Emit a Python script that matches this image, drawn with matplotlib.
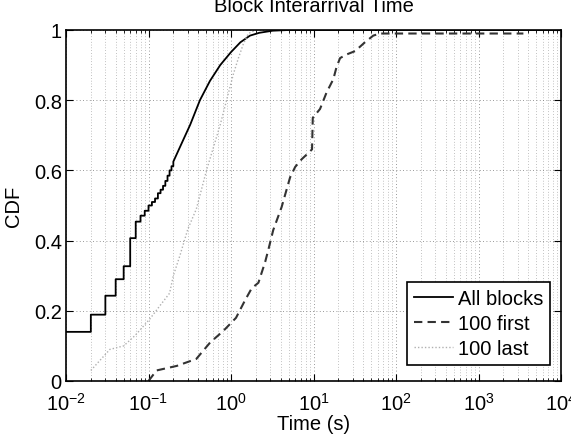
import numpy as np
import matplotlib
matplotlib.use("Agg")
import matplotlib.pyplot as plt
from matplotlib.ticker import LogLocator, NullFormatter, FixedLocator

plt.rcParams["font.family"] = ["Liberation Sans", "DejaVu Sans"]
plt.rcParams["mathtext.default"] = "regular"

# All blocks: discrete steps (0.01 s resolution) then a smooth part
all_step_t = [0.01, 0.02, 0.03, 0.04, 0.05, 0.06, 0.07, 0.08, 0.09, 0.10,
              0.11, 0.12, 0.13, 0.14, 0.15, 0.16, 0.17, 0.18, 0.19, 0.20]
all_step_cdf = [0.14, 0.189, 0.243, 0.29, 0.327, 0.407, 0.454, 0.471, 0.485, 0.50,
                0.51, 0.52, 0.535, 0.545, 0.556, 0.57, 0.585, 0.60, 0.612, 0.625]
all_smooth_t = [0.25, 0.32, 0.42, 0.556, 0.74, 1.0, 1.3, 1.7, 2.2, 3.2, 5.0, 1e4]
all_smooth_cdf = [0.675, 0.73, 0.80, 0.855, 0.90, 0.937, 0.965, 0.984, 0.992, 0.998, 1.0, 1.0]

# 100 first blocks
first_t = [0.1, 0.125, 0.22, 0.38, 0.56, 0.81, 1.15, 1.48, 1.78, 2.15, 2.6, 2.85,
           3.25, 4.1, 5.2, 6.0, 7.2, 8.7, 9.6, 9.8, 12, 14.4, 17.4, 19, 21, 25,
           32, 42, 53, 64, 3500]
first_cdf = [0.0, 0.03, 0.043, 0.063, 0.11, 0.143, 0.18, 0.23, 0.264, 0.28, 0.34, 0.376,
             0.43, 0.495, 0.58, 0.61, 0.632, 0.65, 0.66, 0.75, 0.775, 0.822, 0.86, 0.894,
             0.92, 0.93, 0.94, 0.965, 0.984, 0.99, 0.99]

# 100 last blocks
last_t = [0.02, 0.034, 0.05, 0.069, 0.104, 0.138, 0.18, 0.2, 0.24, 0.30, 0.38, 0.51,
          0.58, 0.74, 0.93, 1.07, 1.23, 1.41, 1.62, 2.0]
last_cdf = [0.03, 0.09, 0.10, 0.13, 0.177, 0.215, 0.25, 0.30, 0.357, 0.433, 0.49, 0.604,
            0.647, 0.73, 0.82, 0.875, 0.92, 0.96, 0.99, 1.0]

# build the staircase for the discrete part of "All blocks"
st = np.array(all_step_t)
sc = np.array(all_step_cdf)
step_x = np.repeat(st, 2)[1:]
step_y = np.repeat(sc, 2)[:-1]
all_x = np.concatenate([step_x, all_smooth_t])
all_y = np.concatenate([step_y, all_smooth_cdf])

fs = 14.5

fig = plt.figure(figsize=(5.71, 4.35), dpi=100)
ax = fig.add_axes([66 / 571, 53 / 435, 495 / 571, 351 / 435])

ax.plot(all_x, all_y, color="black", lw=1.3, label="All blocks")
ax.plot(first_t, first_cdf, color="#333333", lw=1.5, ls=(0, (4, 2.5)), label="100 first")
ax.plot(last_t, last_cdf, color="#b0b0b0", lw=1.0, ls=(0, (1, 1.5)), label="100 last")

ax.set_xscale("log")
ax.set_xlim(1e-2, 1e4)
ax.set_ylim(0, 1)
ax.xaxis.set_major_locator(LogLocator(base=10, numticks=10))
ax.xaxis.set_minor_locator(LogLocator(base=10, subs=np.arange(2, 10), numticks=20))
ax.xaxis.set_minor_formatter(NullFormatter())
ax.yaxis.set_major_locator(FixedLocator([0, 0.2, 0.4, 0.6, 0.8, 1.0]))
ax.set_yticklabels(["0", "0.2", "0.4", "0.6", "0.8", "1"])

ax.grid(True, which="major", color="#777777", ls=(0, (1, 3)), lw=0.6)
ax.grid(True, which="minor", axis="x", color="#888888", ls=(0, (1, 3)), lw=0.5)
ax.tick_params(which="both", direction="in", top=True, right=True, labelsize=fs)
ax.tick_params(which="major", length=5)
ax.tick_params(which="minor", length=2.5)
ax.tick_params(axis="x", which="major", pad=8)
ax.tick_params(axis="y", which="major", pad=3)
for s in ax.spines.values():
    s.set_linewidth(1.2)

ax.set_xlabel("Time (s)", fontsize=fs, labelpad=0)
ax.set_ylabel("CDF", fontsize=fs, labelpad=8)
ax.set_title("Block Interarrival Time", fontsize=fs, pad=14)

leg = ax.legend(loc="lower right", bbox_to_anchor=(0.978, 0.0456), borderaxespad=0,
                fontsize=fs, fancybox=False, framealpha=1, edgecolor="black",
                handlelength=1.9, handletextpad=0.25, labelspacing=0.3, borderpad=0.35)
leg.get_frame().set_linewidth(1.2)

fig.savefig("out.png", dpi=100)
